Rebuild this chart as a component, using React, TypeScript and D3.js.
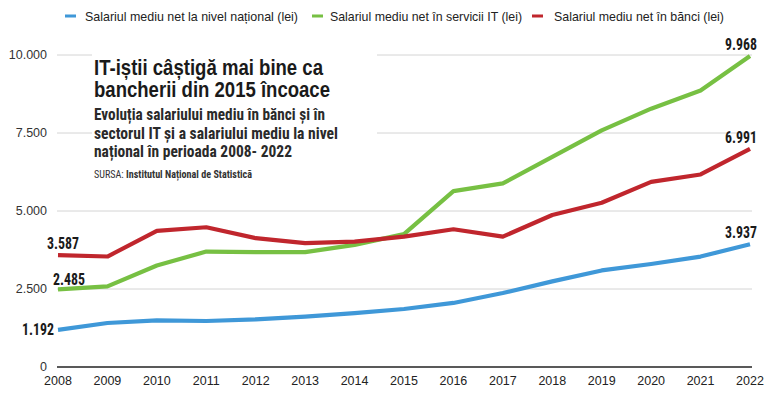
import React from "react";
import * as d3 from "d3";

const years = [2008, 2009, 2010, 2011, 2012, 2013, 2014, 2015, 2016, 2017, 2018, 2019, 2020, 2021, 2022];
const national = [1192, 1410, 1495, 1475, 1525, 1615, 1725, 1860, 2053, 2370, 2745, 3095, 3300, 3540, 3937];
const itServices = [2485, 2583, 3254, 3700, 3680, 3680, 3914, 4260, 5639, 5884, 6734, 7586, 8280, 8863, 9968];
const banks = [3587, 3541, 4361, 4479, 4128, 3968, 4020, 4180, 4415, 4180, 4872, 5265, 5935, 6171, 6991];
const yTicks = [0, 2500, 5000, 7500, 10000];
const seriesNames = [
  "Salariul mediu net la nivel național (lei)",
  "Salariul mediu net în servicii IT (lei)",
  "Salariul mediu net în bănci (lei)",
];
const seriesColors = ["#3f98d8", "#77c043", "#c0262d"];
const titleLines = ["IT-iștii câștigă mai bine ca", "bancherii din 2015 încoace"];
const subtitleLines = [
  "Evoluția salariului mediu în bănci și în",
  "sectorul IT și a salariului mediu la nivel",
  "național în perioada 2008- 2022",
];
const sourceLabel = "SURSA:";
const sourceText = "Institutul Național de Statistică";

const locale = d3.formatLocale({ thousands: ".", decimal: ",", grouping: [3], currency: ["", ""] });
const fmt = locale.format(",d");

export default function App() {
  const W = 768, H = 400;
  const x = d3.scaleLinear().domain([2008, 2022]).range([58, 750]);
  const y = d3.scaleLinear().domain([0, 10000]).range([367, 55]);
  const line = d3.line<number>().x((_, i) => x(years[i])).y((d) => y(d)).curve(d3.curveLinear);
  const all = [national, itServices, banks];
  const condensed = "'Liberation Sans Narrow', 'Roboto Condensed', 'Arial Narrow', 'Liberation Sans', sans-serif";
  const sans = "'Liberation Sans', Arial, Helvetica, sans-serif";

  const legendPos = [
    { dx: 65, tx: 85, tw: 213 },
    { dx: 312, tx: 330, tw: 192 },
    { dx: 532, tx: 554, tw: 170 },
  ];
  const titleWidths = [229, 236];
  const subWidths = [231, 244, 198];

  const firstLabels = [
    { v: national[0], xr: 54, yb: 335 },
    { v: itServices[0], xl: 53, yb: 285 },
    { v: banks[0], xl: 47, yb: 249 },
  ];
  const n = years.length - 1;

  return (
    <svg width={W} height={H} style={{ position: "absolute", left: 0, top: 0, background: "#fff" }}>
      <rect x={0} y={0} width={W} height={H} fill="#fff" />
      {yTicks.filter((t) => t > 0).map((t) => (
        <line key={t} x1={57} x2={752} y1={y(t)} y2={y(t)} stroke="#d4d4d4" strokeWidth={1} />
      ))}
      {yTicks.map((t) => (
        <text key={t} x={47} y={y(t)} dy="0.35em" textAnchor="end" fontFamily={sans} fontSize={12.5} fill="#333">
          {fmt(t)}
        </text>
      ))}
      <line x1={57} x2={752} y1={367} y2={367} stroke="#222" strokeWidth={1.6} />
      {years.map((yr) => (
        <text key={yr} x={x(yr)} y={385} textAnchor="middle" fontFamily={sans} fontSize={12.5} fill="#222">
          {yr}
        </text>
      ))}
      <rect x={92} y={46} width={285} height={140} fill="#fff" />
      {titleLines.map((t, i) => (
        <text key={t} x={94} y={75 + i * 22} fontFamily={sans} fontWeight="bold" fontSize={21.5}
          textLength={titleWidths[i]} lengthAdjust="spacingAndGlyphs" fill="#1a1a1a">
          {t}
        </text>
      ))}
      {subtitleLines.map((t, i) => (
        <text key={t} x={94} y={120 + i * 18.5} fontFamily={condensed} fontWeight="bold" fontSize={17}
          textLength={subWidths[i]} lengthAdjust="spacingAndGlyphs" fill="#2a2a2a">
          {t}
        </text>
      ))}
      <text x={94} y={178} fontFamily={condensed} fontSize={10} fill="#333" textLength={158} lengthAdjust="spacingAndGlyphs">
        <tspan>{sourceLabel} </tspan>
        <tspan fontWeight="bold">{sourceText}</tspan>
      </text>
      {all.map((s, i) => (
        <path key={i} d={line(s) || ""} fill="none" stroke={seriesColors[i]} strokeWidth={4.2}
          strokeLinejoin="round" strokeLinecap="butt" />
      ))}
      {firstLabels.map((l, i) => (
        <text key={i} x={l.xr !== undefined ? l.xr : l.xl} y={l.yb} textAnchor={l.xr !== undefined ? "end" : "start"}
          fontFamily={condensed} fontWeight="bold" fontSize={17} fill="#1a1a1a"
          textLength={32} lengthAdjust="spacingAndGlyphs">
          {fmt(l.v)}
        </text>
      ))}
      {all.map((s, i) => (
        <text key={i} x={757} y={y(s[n]) - 6} textAnchor="end" fontFamily={condensed} fontWeight="bold"
          fontSize={17} fill="#1a1a1a" textLength={32} lengthAdjust="spacingAndGlyphs">
          {fmt(s[n])}
        </text>
      ))}
      {seriesNames.map((nme, i) => (
        <g key={nme}>
          <rect x={legendPos[i].dx} y={14.5} width={11} height={3} fill={seriesColors[i]} />
          <text x={legendPos[i].tx} y={20.5} fontFamily={sans} fontSize={13} fill="#222"
            textLength={legendPos[i].tw} lengthAdjust="spacingAndGlyphs">
            {nme}
          </text>
        </g>
      ))}
    </svg>
  );
}
